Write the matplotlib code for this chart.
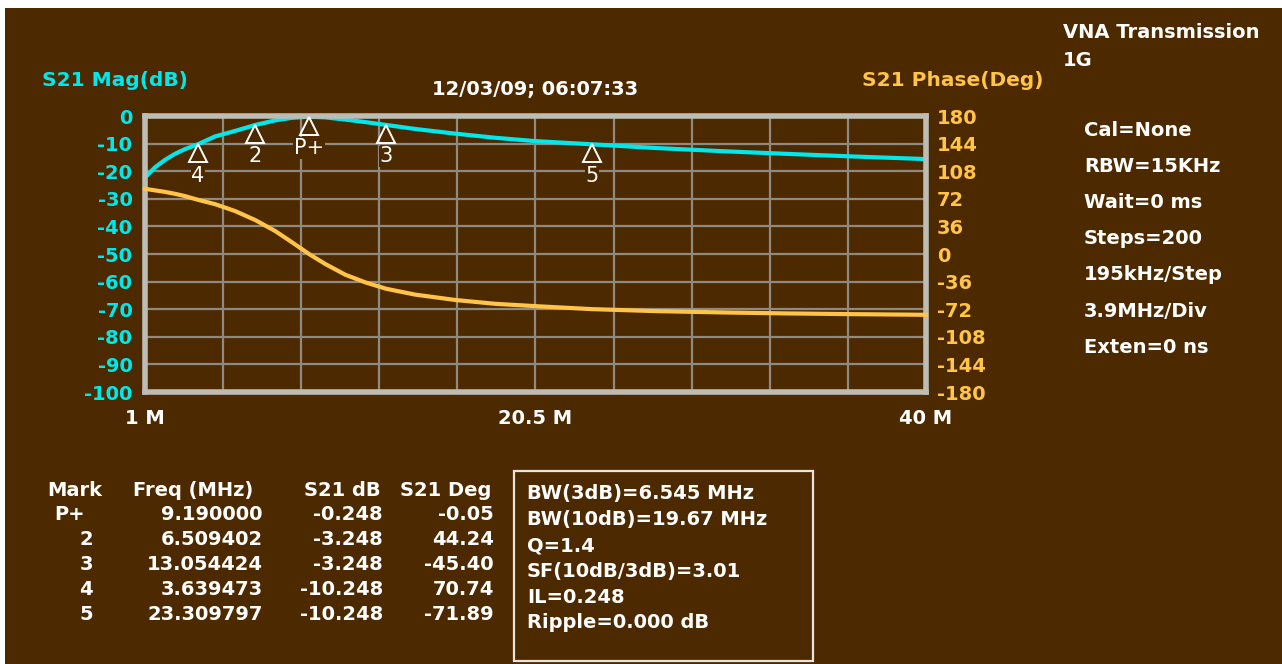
import numpy as np
import matplotlib
matplotlib.use('Agg')
from matplotlib import pyplot as plt
from matplotlib.patches import Rectangle
from matplotlib.transforms import offset_copy

plt.rcParams['axes.unicode_minus'] = False

# ---- data ----
freq_mhz = [1.0, 1.5, 2.0, 2.5, 3.0, 3.64, 4.5, 5.5, 6.51, 7.5, 8.3, 9.19, 10.0,
            11.0, 12.0, 13.05, 14.5, 16.5, 18.5, 20.5, 23.3, 26.5, 30.0, 33.0, 36.5, 40.0]
mag_db = [-22.3, -18.6, -15.9, -13.7, -12.0, -10.25, -7.4, -5.4, -3.25, -1.6, -0.7, -0.25, -0.5,
          -1.3, -2.2, -3.25, -4.7, -6.4, -7.9, -9.1, -10.25, -11.6, -12.8, -13.7, -14.7, -15.6]
phase_deg = [85.0, 83.0, 81.0, 78.5, 75.5, 70.7, 65.0, 56.0, 44.2, 30.0, 16.0, 0.0, -13.0,
             -27.0, -37.0, -45.4, -53.0, -60.0, -65.0, -68.0, -71.9, -74.5, -76.3, -77.5, -78.5, -79.3]

mark_names = ['P+', '2', '3', '4', '5']
mark_freq = [9.190000, 6.509402, 13.054424, 3.639473, 23.309797]
mark_db = [-0.248, -3.248, -3.248, -10.248, -10.248]
mark_deg = [-0.05, 44.24, -45.40, 70.74, -71.89]

mag_ticks = list(range(0, -101, -10))
phase_ticks = [180, 144, 108, 72, 36, 0, -36, -72, -108, -144, -180]
x_ticks = np.linspace(1, 40, 11)
x_labels = ['1 M', '', '', '', '', '20.5 M', '', '', '', '', '40 M']

settings = ['Cal=None', 'RBW=15KHz', 'Wait=0 ms', 'Steps=200',
            '195kHz/Step', '3.9MHz/Div', 'Exten=0 ns']
summary = ['BW(3dB)=6.545 MHz', 'BW(10dB)=19.67 MHz', 'Q=1.4',
           'SF(10dB/3dB)=3.01', 'IL=0.248', 'Ripple=0.000 dB']

BG = '#4d2900'
CYAN = '#00e8ec'
ORANGE = '#ffc448'
FRAME = '#bdbdb5'
GRID = '#8e8a80'
FONT = 'DejaVu Sans'
FS = 14

W, H = 1282, 664
fig = plt.figure(figsize=(W / 100, H / 100), dpi=100, facecolor='white')


def fx(x):
    return x / W


def fy(y):
    return 1 - y / H


# brown screen area (white strip at top/left like the screenshot)
fig.patches.append(Rectangle((fx(5), 0), 1, fy(8), transform=fig.transFigure,
                             facecolor=BG, edgecolor='none', zorder=-5))

ax = fig.add_axes([fx(145), fy(392), fx(926) - fx(145), fy(116) - fy(392)])
ax.set_facecolor(BG)
ax.set_xlim(1, 40)
ax.set_ylim(-100, 0)
ax.set_xticks(x_ticks)
ax.set_xticklabels(x_labels)
ax.set_yticks(mag_ticks)
ax.grid(True, color=GRID, lw=1.6)
ax.tick_params(length=0)
ax.tick_params(axis='y', colors=CYAN, pad=9, labelsize=FS)
ax.tick_params(axis='x', colors='white', pad=12, labelsize=FS)
for lab in ax.get_yticklabels() + ax.get_xticklabels():
    lab.set_fontweight('bold')
    lab.set_family(FONT)
for sp in ax.spines.values():
    sp.set_color(FRAME)
    sp.set_linewidth(4)
    sp.set_zorder(5)

ax.plot(freq_mhz, mag_db, color=CYAN, lw=3, zorder=3, clip_on=False)

ax2 = ax.twinx()
ax2.set_ylim(-180, 180)
ax2.set_yticks(phase_ticks)
ax2.tick_params(length=0, colors=ORANGE, pad=8, labelsize=FS)
for lab in ax2.get_yticklabels():
    lab.set_fontweight('bold')
    lab.set_family(FONT)
for sp in ax2.spines.values():
    sp.set_visible(False)
ax2.plot(freq_mhz, phase_deg, color=ORANGE, lw=3, zorder=3, clip_on=False)

# markers: hollow triangles under the magnitude trace
tri_tr = offset_copy(ax.transData, fig=fig, x=0, y=-9, units='dots')
for name, f, d in zip(mark_names, mark_freq, mark_db):
    ax.plot([f], [d], marker='^', ms=13, mfc='none', mec='white', mew=1.4,
            transform=tri_tr, zorder=6)
    ax.annotate(name, (f, d), xytext=(0, -22.5), textcoords='offset points',
                ha='center', va='center', color='white', fontsize=FS + 1, family=FONT,
                bbox=dict(facecolor=BG, edgecolor='none', pad=0.5), zorder=6)

# headings
fig.text(fx(42), fy(80), 'S21 Mag(dB)', color=CYAN, fontsize=FS + 0.5, weight='bold',
         family=FONT, va='center')
fig.text(fx(432), fy(90), '12/03/09; 06:07:33', color='white', fontsize=FS,
         weight='bold', family=FONT, va='center')
fig.text(fx(862), fy(80), 'S21 Phase(Deg)', color=ORANGE, fontsize=FS + 0.5, weight='bold',
         family=FONT, va='center')
fig.text(fx(1063), fy(33), 'VNA Transmission', color='white', fontsize=FS,
         weight='bold', family=FONT, va='center')
fig.text(fx(1063), fy(60), '1G', color='white', fontsize=FS, weight='bold',
         family=FONT, va='center')

for i, s in enumerate(settings):
    fig.text(fx(1084), fy(130 + 36.2 * i), s, color='white', fontsize=FS,
             weight='bold', family=FONT, va='center')

# marker table
tkw = dict(color='white', fontsize=FS, weight='bold', family=FONT, va='center')
fig.text(fx(75), fy(490), 'Mark', ha='center', **tkw)
fig.text(fx(253), fy(490), 'Freq (MHz)', ha='right', **tkw)
fig.text(fx(381), fy(490), 'S21 dB', ha='right', **tkw)
fig.text(fx(491), fy(490), 'S21 Deg', ha='right', **tkw)
for i, (n, f, d, p) in enumerate(zip(mark_names, mark_freq, mark_db, mark_deg)):
    y = 515 + 24.9 * i
    fig.text(fx(70 if n == 'P+' else 86), fy(y), n, ha='center', **tkw)
    fig.text(fx(263), fy(y), '%.6f' % f, ha='right', **tkw)
    fig.text(fx(383), fy(y), '%.3f' % d, ha='right', **tkw)
    fig.text(fx(494), fy(y), '%.2f' % p, ha='right', **tkw)

# summary box
fig.patches.append(Rectangle((fx(514), fy(661)), fx(813) - fx(514), fy(471) - fy(661),
                             transform=fig.transFigure, facecolor='none',
                             edgecolor='#e8e4dc', lw=1.6, zorder=2))
for i, s in enumerate(summary):
    fig.text(fx(527), fy(494 + 25.8 * i), s, ha='left', **tkw)

fig.savefig('out.png', dpi=100, facecolor=fig.get_facecolor())
